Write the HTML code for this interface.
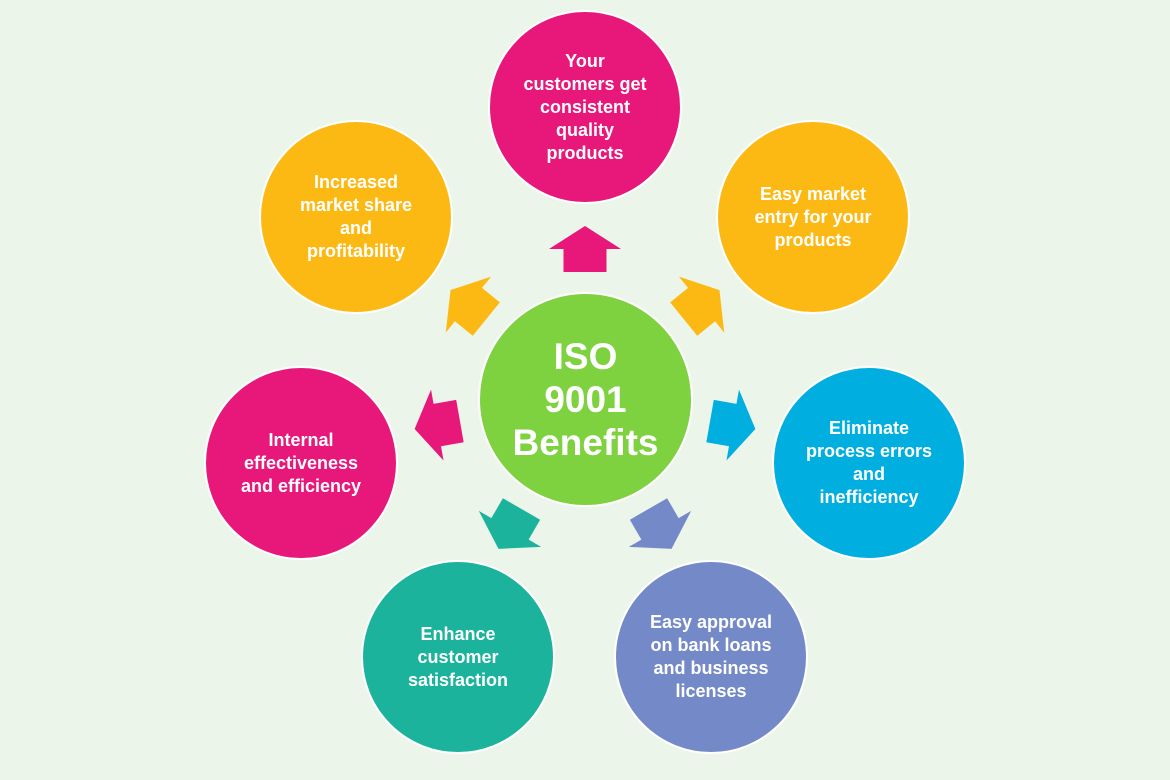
<!DOCTYPE html>
<html><head><style>
body{margin:0;width:1170px;height:780px;background:#ebf5ea;overflow:hidden;font-family:"Liberation Sans",sans-serif}
.c{position:absolute;border-radius:50%;border:2px solid #fff;box-sizing:border-box;display:flex;align-items:center;justify-content:center;text-align:center;color:#fff;font-weight:bold;font-size:18px;line-height:23px}
</style></head><body>
<svg width="1170" height="780" style="position:absolute;left:0;top:0">
<defs><polygon id="a" points="0,-173 36,-150 21.5,-150 21.5,-127 -21.5,-127 -21.5,-150 -36,-150"/></defs>
<g transform="translate(585,399)">
<use href="#a" fill="#e8177a"/>
<use href="#a" fill="#fdb913" transform="rotate(51)"/>
<use href="#a" fill="#00aedf" transform="rotate(100)"/>
<use href="#a" fill="#7489c8" transform="rotate(150)"/>
<use href="#a" fill="#1bb39b" transform="rotate(210)"/>
<use href="#a" fill="#e8177a" transform="rotate(260)"/>
<use href="#a" fill="#fdb913" transform="rotate(309)"/>
</g>
</svg>
<div class="c" style="left:478px;top:292px;width:215px;height:215px;background:#7ed13f;font-size:37px;line-height:43px">ISO<br>9001<br>Benefits</div>
<div class="c" style="left:488px;top:10px;width:194px;height:194px;background:#e8177a">Your<br>customers get<br>consistent<br>quality<br>products</div>
<div class="c" style="left:716px;top:120px;width:194px;height:194px;background:#fdb913">Easy market<br>entry for your<br>products</div>
<div class="c" style="left:772px;top:366px;width:194px;height:194px;background:#00aedf">Eliminate<br>process errors<br>and<br>inefficiency</div>
<div class="c" style="left:614px;top:560px;width:194px;height:194px;background:#7489c8">Easy approval<br>on bank loans<br>and business<br>licenses</div>
<div class="c" style="left:361px;top:560px;width:194px;height:194px;background:#1bb39b">Enhance<br>customer<br>satisfaction</div>
<div class="c" style="left:204px;top:366px;width:194px;height:194px;background:#e8177a">Internal<br>effectiveness<br>and efficiency</div>
<div class="c" style="left:259px;top:120px;width:194px;height:194px;background:#fdb913">Increased<br>market share<br>and<br>profitability</div>
</body></html>
